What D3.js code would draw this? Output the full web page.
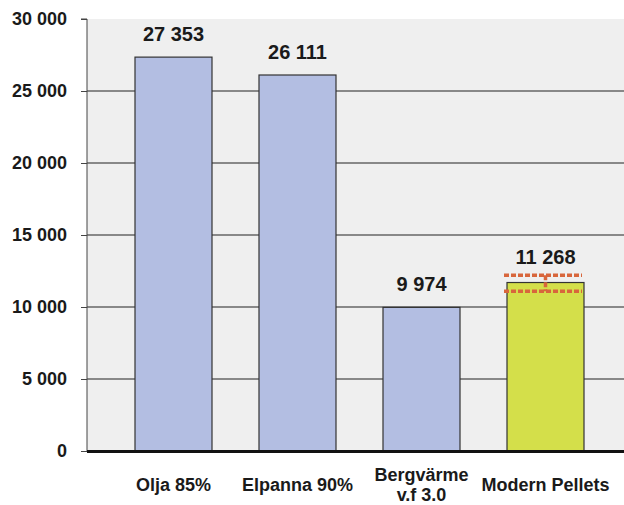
<!DOCTYPE html>
<html><head><meta charset="utf-8">
<script src="https://cdn.jsdelivr.net/npm/d3@7"></script>
<style>body{margin:0;background:#fff}svg{display:block}text{font-family:"Liberation Sans",Arial,sans-serif;font-weight:bold;fill:#1a1a1a}</style>
</head><body><svg id="c" width="624" height="505"></svg>
<script>
const categories = [["Olja 85%"], ["Elpanna 90%"], ["Bergvärme", "v.f 3.0"], ["Modern Pellets"]];
const labelValues = [27353, 26111, 9974, 11268];
const barValues = [27353, 26111, 9974, 11700];
const rangeLow = [null, null, null, 11100];
const rangeHigh = [null, null, null, 12200];
const barColors = ["#b3bee2", "#b3bee2", "#b3bee2", "#d4df4a"];
const yTicks = [0, 5000, 10000, 15000, 20000, 25000, 30000];

const svg = d3.select("#c");
const pLeft = 87, pTop = 19, pBottom = 451, step = 124, xStart = 111.5;
const x = d3.scaleBand().domain(d3.range(categories.length)).range([xStart, xStart + step * categories.length]).paddingInner(47/124).paddingOuter(47/248);
const y = d3.scaleLinear().domain([0, 30000]).range([pBottom, pTop]);
const fmt = v => d3.format(",")(v).replace(/,/g, " ");

svg.append("rect").attr("x", pLeft).attr("y", pTop).attr("width", 624 - pLeft).attr("height", pBottom - pTop).attr("fill", "#efefef");

svg.append("g").selectAll("line").data(yTicks.filter(t => t > 0 && t < 30000)).join("line")
  .attr("x1", pLeft).attr("x2", 624).attr("y1", d => y(d)).attr("y2", d => y(d))
  .attr("stroke", "#222").attr("stroke-width", 1.2);

const ax = svg.append("g").attr("transform", `translate(${pLeft},0)`)
  .call(d3.axisLeft(y).tickValues(yTicks).tickSize(6).tickPadding(14).tickFormat(fmt));
ax.select(".domain").attr("stroke", "#444").attr("d", `M-6,${pTop}H0V${pBottom}`);
ax.selectAll(".tick line").attr("stroke", "#444");
ax.selectAll(".tick text").attr("font-size", 18).attr("fill", "#1a1a1a").attr("font-weight", "bold").attr("font-family", "Liberation Sans, Arial, sans-serif");

svg.append("g").selectAll("rect").data(barValues).join("rect")
  .attr("x", (d, i) => x(i)).attr("width", x.bandwidth())
  .attr("y", d => y(d)).attr("height", d => pBottom - y(d))
  .attr("fill", (d, i) => barColors[i]).attr("stroke", "#333").attr("stroke-width", 1.2);

svg.append("line").attr("x1", pLeft).attr("x2", 624).attr("y1", pBottom + 0.5).attr("y2", pBottom + 0.5).attr("stroke", "#111").attr("stroke-width", 3);

// range markers
const rg = svg.append("g");
rangeLow.forEach((lo, i) => {
  if (lo == null) return;
  const hi = rangeHigh[i];
  const x0 = x(i) - 3, x1 = x(i) + x.bandwidth() - 2;
  [lo, hi].forEach(v => rg.append("line").attr("x1", x0).attr("x2", x1).attr("y1", y(v)).attr("y2", y(v))
    .attr("stroke", "#d8663c").attr("stroke-width", 3.5).attr("stroke-dasharray", "5,2"));
  const cx = x(i) + x.bandwidth() / 2;
  rg.append("line").attr("x1", cx).attr("x2", cx).attr("y1", y(hi)).attr("y2", y(lo))
    .attr("stroke", "#d8663c").attr("stroke-width", 3.5).attr("stroke-dasharray", "5,2");
});

svg.append("g").selectAll("text").data(labelValues).join("text")
  .attr("x", (d, i) => x(i) + x.bandwidth() / 2)
  .attr("y", (d, i) => rangeHigh[i] != null ? y(rangeHigh[i]) - 11 : y(barValues[i]) - 16)
  .attr("text-anchor", "middle").attr("font-size", 20).text(fmt);

const cl = svg.append("g");
categories.forEach((lines, i) => {
  const t = cl.append("text").attr("text-anchor", "middle").attr("font-size", 18)
    .attr("x", x(i) + x.bandwidth() / 2).attr("y", lines.length > 1 ? 481 : 491);
  lines.forEach((s, k) => t.append("tspan").attr("x", x(i) + x.bandwidth() / 2).attr("dy", k ? 20 : 0).text(s));
});
</script></body></html>
